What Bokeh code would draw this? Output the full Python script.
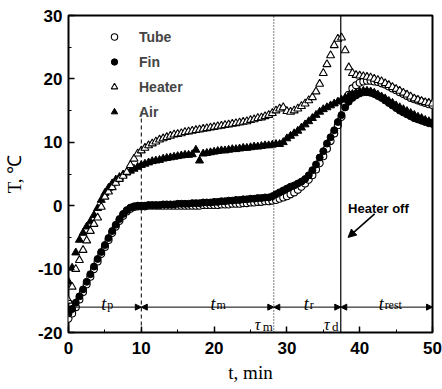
from bokeh.plotting import figure
from bokeh.models import (Range1d, Arrow, NormalHead, Label, Legend, LegendItem,
                          FixedTicker, ColumnDataSource)
from bokeh.embed import file_html
from bokeh.resources import INLINE

# ---------------- data ----------------
time_min = [0, 0.5, 1, 1.5, 2, 2.5, 3, 3.5, 4, 4.5, 5, 5.5, 6, 6.5, 7, 7.5, 8, 8.5, 9, 9.5,
            10, 10.5, 11, 11.5, 12, 12.5, 13, 13.5, 14, 14.5, 15, 15.5, 16, 16.5, 17, 17.5, 18, 18.5, 19, 19.5,
            20, 20.5, 21, 21.5, 22, 22.5, 23, 23.5, 24, 24.5, 25, 25.5, 26, 26.5, 27, 27.5, 28, 28.5, 29, 29.5,
            30, 30.5, 31, 31.5, 32, 32.5, 33, 33.5, 34, 34.5, 35, 35.5, 36, 36.5, 37, 37.5, 38, 38.5, 39, 39.5,
            40, 40.5, 41, 41.5, 42, 42.5, 43, 43.5, 44, 44.5, 45, 45.5, 46, 46.5, 47, 47.5, 48, 48.5, 49, 49.5, 50]

tube = [-17.8, -17.0, -16.0, -14.8, -13.6, -12.4, -11.2, -10.0, -8.8, -7.6, -6.5, -5.4, -4.3, -3.3, -2.4, -1.6, -0.9, -0.5, -0.2, -0.1,
        -0.1, -0.1, 0.0, 0.0, 0.0, 0.0, 0.0, 0.0, 0.0, 0.0, 0.0, 0.0, 0.0, 0.0, 0.0, 0.0, 0.0, 0.1, 0.1, 0.1,
        0.1, 0.1, 0.2, 0.2, 0.2, 0.3, 0.3, 0.3, 0.4, 0.4, 0.5, 0.5, 0.6, 0.6, 0.7, 0.7, 0.8, 0.9, 1.1, 1.3,
        1.5, 1.8, 2.1, 2.5, 3.0, 3.5, 4.1, 4.8, 5.7, 6.7, 7.8, 9.0, 10.2, 11.4, 12.7, 14.0, 16.0, 17.5, 18.5, 19.0,
        19.4, 19.6, 19.7, 19.7, 19.6, 19.5, 19.3, 19.1, 18.8, 18.5, 18.2, 17.9, 17.6, 17.3, 17.0, 16.8, 16.6, 16.4, 16.2, 16.0, 15.9]

fin = [-17.0, -16.3, -15.3, -14.3, -13.2, -12.0, -10.8, -9.6, -8.4, -7.3, -6.2, -5.1, -4.0, -3.0, -2.1, -1.3, -0.7, -0.3, -0.1, 0.0,
       0.0, 0.0, 0.1, 0.1, 0.1, 0.1, 0.2, 0.2, 0.2, 0.2, 0.3, 0.3, 0.3, 0.3, 0.4, 0.4, 0.4, 0.5, 0.5, 0.5,
       0.6, 0.6, 0.7, 0.7, 0.8, 0.8, 0.9, 0.9, 1.0, 1.0, 1.1, 1.1, 1.2, 1.2, 1.3, 1.3, 1.5, 1.8, 2.1, 2.4,
       2.7, 3.0, 3.2, 3.5, 3.8, 4.2, 4.8, 5.6, 6.5, 7.6, 8.6, 9.8, 10.8, 11.9, 13.2, 14.3, 15.5, 16.4, 17.0, 17.4,
       17.7, 17.9, 17.9, 17.8, 17.6, 17.3, 17.0, 16.6, 16.2, 15.8, 15.4, 15.0, 14.7, 14.4, 14.1, 13.8, 13.6, 13.4, 13.2, 13.0, 12.9]

heater = [-15.0, -12.8, -10.0, -8.6, -7.0, -5.5, -4.0, -2.9, -1.9, -0.2, 1.4, 2.2, 2.9, 3.6, 4.2, 4.7, 5.3, 6.4, 7.4, 8.2,
          8.7, 9.1, 9.5, 9.8, 10.1, 10.4, 10.6, 10.8, 11.0, 11.2, 11.3, 11.4, 11.6, 11.7, 11.8, 11.9, 12.0, 12.1, 12.2, 12.3,
          12.4, 12.5, 12.6, 12.7, 12.8, 12.9, 13.0, 13.1, 13.2, 13.3, 13.5, 13.6, 13.8, 13.9, 14.1, 14.3, 14.6, 15.0, 15.3, 15.5,
          14.9, 14.8, 15.0, 15.3, 15.7, 16.1, 16.6, 17.1, 18.0, 19.2, 20.9, 22.3, 23.7, 25.3, 26.3, 26.5, 24.5, 21.8, 20.9, 20.6,
          20.5, 20.4, 20.3, 20.2, 20.0, 19.8, 19.6, 19.3, 19.0, 18.7, 18.4, 18.1, 17.8, 17.5, 17.2, 16.9, 16.7, 16.5, 16.3, 16.2, 16.1]

air = [-12.0, -9.8, -7.4, -5.4, -4.3, -3.3, -2.5, -1.5, -0.4, 0.9, 2.0, 2.8, 3.5, 4.1, 4.5, 4.9, 5.2, 5.5, 5.8, 6.1,
       6.4, 6.6, 6.8, 7.0, 7.1, 7.2, 7.4, 7.5, 7.6, 7.7, 7.8, 7.9, 8.0, 8.0, 8.1, 8.8, 7.1, 8.2, 8.3, 8.4,
       8.5, 8.6, 8.7, 8.7, 8.8, 8.9, 8.9, 9.0, 9.1, 9.1, 9.2, 9.3, 9.3, 9.4, 9.5, 9.5, 9.6, 9.7, 9.7, 10.0,
       10.6, 11.0, 11.4, 11.8, 12.3, 12.8, 13.3, 13.8, 14.3, 14.8, 15.2, 15.5, 15.8, 16.1, 16.4, 16.7, 17.0, 17.3, 17.6, 17.8,
       18.0, 18.1, 18.1, 18.0, 17.8, 17.5, 17.2, 16.9, 16.5, 16.2, 15.8, 15.5, 15.2, 14.9, 14.6, 14.3, 14.0, 13.8, 13.5, 13.3, 13.1]

series_names = ["Tube", "Fin", "Heater", "Air"]
x_ticks = [0, 10, 20, 30, 40, 50]
x_minor = [5, 15, 25, 35, 45]
y_ticks = [-20, -10, 0, 10, 20, 30]
y_minor = [-15, -5, 5, 15, 25]

# phase boundaries (min): start, melt end (dashed), tau_m (dotted), tau_d (heater off), end
phase_bounds = [0, 10, 28.2, 37.4, 50]
phase_level = -16
phase_names = ["p", "m", "r", "rest"]
tau_names = ["m", "d"]

# ---------------- figure ----------------
SERIF = "Liberation Serif"
SANS = "Liberation Sans"

p = figure(width=442, height=389, x_range=Range1d(0, 50), y_range=Range1d(-20, 30),
           output_backend="svg", toolbar_location=None,
           min_border_left=67, min_border_right=10, min_border_top=15, min_border_bottom=57)
p.background_fill_color = "white"
p.border_fill_color = "white"
p.outline_line_color = "black"
p.outline_line_width = 2
p.xgrid.visible = False
p.ygrid.visible = False

for ax in (p.xaxis[0], p.yaxis[0]):
    ax.axis_line_color = None
    ax.major_tick_in = 6
    ax.major_tick_out = 0
    ax.minor_tick_in = 3
    ax.minor_tick_out = 0
    ax.major_tick_line_width = 1.5
    ax.minor_tick_line_width = 1
    ax.major_label_text_font = SANS
    ax.major_label_text_font_style = "bold"
    ax.major_label_text_color = "black"
    ax.axis_label_text_font = SERIF
    ax.axis_label_text_font_style = "normal"
    ax.axis_label_text_font_size = "19px"
    ax.axis_label_text_color = "black"
p.xaxis[0].ticker = FixedTicker(ticks=x_ticks, minor_ticks=x_minor)
p.yaxis[0].ticker = FixedTicker(ticks=y_ticks, minor_ticks=y_minor)
p.yaxis[0].major_label_overrides = {t: str(t) for t in y_ticks}
p.xaxis[0].major_label_text_font_size = "17px"
p.yaxis[0].major_label_text_font_size = "17px"
p.xaxis[0].major_label_standoff = 9
p.yaxis[0].major_label_standoff = 6
p.xaxis[0].axis_label = "t, min"
p.yaxis[0].axis_label = "T, ℃"
p.xaxis[0].axis_label_standoff = 5
p.yaxis[0].axis_label_standoff = 10

src = ColumnDataSource(dict(t=time_min, tube=tube, fin=fin, heater=heater, air=air))

r_tube = p.scatter("t", "tube", source=src, marker="circle", size=7,
                   fill_color="white", line_color="black", line_width=1.1)
r_fin = p.scatter("t", "fin", source=src, marker="circle", size=7,
                  fill_color="black", line_color="black")
r_air = p.scatter("t", "air", source=src, marker="triangle", size=8,
                  fill_color="black", line_color="black")
r_heater = p.scatter("t", "heater", source=src, marker="triangle", size=8,
                     fill_color="white", line_color="black", line_width=1.1)

# vertical phase lines
p.segment(x0=[phase_bounds[1]], y0=[-20], x1=[phase_bounds[1]], y1=[15],
          line_color="black", line_width=1, line_dash="4 3")
p.segment(x0=[phase_bounds[2]], y0=[-20], x1=[phase_bounds[2]], y1=[30],
          line_color="black", line_width=1, line_dash="1 2")
p.segment(x0=[phase_bounds[3]], y0=[-20], x1=[phase_bounds[3]], y1=[30],
          line_color="black", line_width=1.2)

# double arrows for each phase
for a, b in zip(phase_bounds[:-1], phase_bounds[1:]):
    p.add_layout(Arrow(x_start=a, y_start=phase_level, x_end=b, y_end=phase_level,
                       line_width=1, line_color="black",
                       start=NormalHead(size=6, fill_color="black", line_color="black"),
                       end=NormalHead(size=6, fill_color="black", line_color="black")))

# phase labels t_p, t_m, t_r, t_rest
lab_x = [4.5, 19.5, 32.3, 42.6]
for x, s in zip(lab_x, phase_names):
    p.add_layout(Label(x=x, y=-15.5, text="t", text_font=SERIF, text_font_style="italic",
                       text_font_size="18px", text_color="black", text_baseline="alphabetic"))
    p.add_layout(Label(x=x, y=-15.7, x_offset=6, text=s, text_font=SERIF,
                       text_font_size="12px", text_color="black", text_baseline="alphabetic"))

tau_x = [25.6, 35.1]
for x, s in zip(tau_x, tau_names):
    p.add_layout(Label(x=x, y=-18.8, text="τ", text_font=SERIF, text_font_style="italic",
                       text_font_size="16px", text_color="black", text_baseline="alphabetic"))
    p.add_layout(Label(x=x, y=-19.1, x_offset=8, text=s, text_font=SERIF,
                       text_font_size="13px", text_color="black", text_baseline="alphabetic"))

# heater off annotation
p.add_layout(Label(x=38.4, y=-0.5, text="Heater off", text_font=SANS, text_font_style="bold",
                   text_font_size="13px", text_color="black", text_baseline="alphabetic"))
p.add_layout(Arrow(x_start=42.05, y_start=-1.3, x_end=38.4, y_end=-5.0, line_width=1.6,
                   line_color="black",
                   end=NormalHead(size=8, fill_color="black", line_color="black")))

legend = Legend(items=[LegendItem(label=n, renderers=[r]) for n, r in
                       zip(series_names, [r_tube, r_fin, r_heater, r_air])],
                location=(38, 210), orientation="vertical",
                label_text_font=SANS, label_text_font_style="bold", label_text_font_size="14px",
                label_height=21, glyph_height=21, glyph_width=16, label_standoff=17,
                spacing=4, padding=0, margin=0,
                border_line_color=None, background_fill_alpha=0)
p.add_layout(legend)

open("out.html", "w").write(file_html(p, INLINE))
